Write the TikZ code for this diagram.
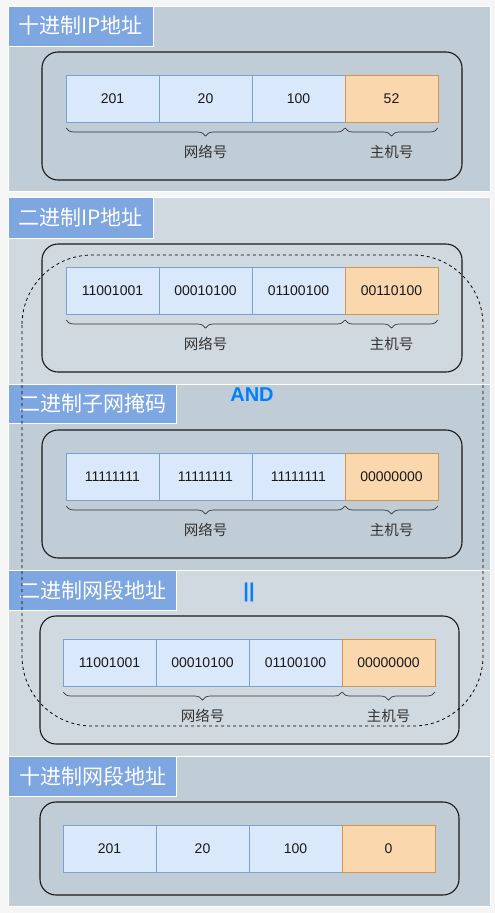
\documentclass[tikz,border=0pt]{standalone}
\usepackage{fontspec}
\setmainfont{Liberation Sans}
\newfontfamily\cjk{Noto Sans CJK SC}
\usetikzlibrary{decorations.pathreplacing,calc}
\definecolor{pagebg}{HTML}{F5F5F5}
\definecolor{pdark}{HTML}{C1CDD6}
\definecolor{plight}{HTML}{D1D9E0}
\definecolor{titlebg}{HTML}{7EA6E0}
\definecolor{cellblue}{HTML}{DAE8FC}
\definecolor{cellbluedraw}{HTML}{7EA0CC}
\definecolor{cellorange}{HTML}{FAD7AC}
\definecolor{cellorangedraw}{HTML}{D0974A}
\definecolor{andblue}{HTML}{007FFF}
\definecolor{bracecol}{HTML}{333333}
\tikzset{
  panel/.style={draw=white,line width=0.8pt},
  titlebox/.style={fill=titlebg,draw=white,line width=0.6pt},
  titletext/.style={text=white,font=\cjk\fontsize{21}{21}\selectfont,anchor=west,inner sep=0pt},
  roundbox/.style={draw=black!90,line width=1.1pt,rounded corners=16pt},
  cellb/.style={draw=cellbluedraw,fill=cellblue,line width=0.7pt,minimum width=93pt,minimum height=47pt,inner sep=0pt,outer sep=0pt,anchor=north west,font=\fontsize{14}{14}\selectfont,text=black!90},
  cello/.style={cellb,draw=cellorangedraw,fill=cellorange},
  bracestyle/.style={draw=bracecol,line width=0.7pt,decorate,decoration={brace,mirror,amplitude=8pt}},
  lbl/.style={font=\cjk\fontsize{14.5}{14.5}\selectfont,text=black!80,inner sep=0pt},
  optext/.style={text=andblue,font=\bfseries\fontsize{20}{20}\selectfont,inner sep=0pt}
}
\newcommand\cellrow[6]{%
  \node[cellb] (#1a) at (#2,#3) {#4};
  \node[cellb] (#1b) at ($(#2,#3)+(93,0)$) {#5};
  \node[cellb] (#1c) at ($(#2,#3)+(186,0)$) {#6};
}
\begin{document}
\begin{tikzpicture}[x=1pt,y=-1pt]
\fill[pagebg] (0,0) rectangle (495,913);
\useasboundingbox (0,0) rectangle (495,913);
% panels
\draw[panel,fill=pdark] (8,6) rectangle (490,191);
\draw[panel,fill=plight] (8,197) rectangle (490,384);
\draw[panel,fill=pdark] (8,384) rectangle (490,570);
\draw[panel,fill=plight] (8,570) rectangle (490,756);
\draw[panel,fill=pdark] (8,756) rectangle (490,906);
% titles
\draw[titlebox] (8,6) rectangle (153,46);
\node[titletext] (t1) at (18,26) {十进制IP地址};
\draw[titlebox] (8,197) rectangle (153,238);
\node[titletext] (t2) at (18,217.5) {二进制IP地址};
\draw[titlebox] (8,384) rectangle (176,423);
\node[titletext] (t3) at (19,403.5) {二进制子网掩码};
\draw[titlebox] (8,570) rectangle (176,610);
\node[titletext] (t4) at (19,590) {二进制网段地址};
\draw[titlebox] (8,756) rectangle (176,796);
\node[titletext] (t5) at (19,776) {十进制网段地址};
% rounded boxes
\draw[roundbox] (42,52) rectangle (462,180);
\draw[roundbox] (42,244) rectangle (462,372);
\draw[roundbox] (42,430) rectangle (462,558);
\draw[roundbox] (40,616) rectangle (459,744);
\draw[roundbox] (40,802) rectangle (459,895);
% dashed region
\draw[black,line width=0.8pt,dash pattern=on 3pt off 3pt,rounded corners=70pt] (22,255) rectangle (483,726);
% row 1
\cellrow{r1}{66}{75}{201}{20}{100}
\node[cello] (r1d) at (345,75) {52};
\draw[bracestyle] ([yshift=-6pt]r1a.south west) -- ([yshift=-6pt]r1c.south east);
\draw[bracestyle] ([yshift=-6pt]r1d.south west) -- ([yshift=-6pt]r1d.south east);
\node[lbl] (r1n) at (205.5,152) {网络号};
\node[lbl] (r1h) at (391.5,152) {主机号};
% row 2
\cellrow{r2}{66}{267}{11001001}{00010100}{01100100}
\node[cello] (r2d) at (345,267) {00110100};
\draw[bracestyle] ([yshift=-6pt]r2a.south west) -- ([yshift=-6pt]r2c.south east);
\draw[bracestyle] ([yshift=-6pt]r2d.south west) -- ([yshift=-6pt]r2d.south east);
\node[lbl] (r2n) at (205.5,344) {网络号};
\node[lbl] (r2h) at (391.5,344) {主机号};
% AND
\node[optext] (and) at (252,395) {AND};
% row 3
\cellrow{r3}{66}{453}{11111111}{11111111}{11111111}
\node[cello] (r3d) at (345,453) {00000000};
\draw[bracestyle] ([yshift=-6pt]r3a.south west) -- ([yshift=-6pt]r3c.south east);
\draw[bracestyle] ([yshift=-6pt]r3d.south west) -- ([yshift=-6pt]r3d.south east);
\node[lbl] (r3n) at (205.5,530) {网络号};
\node[lbl] (r3h) at (391.5,530) {主机号};
% equals
\node[optext] (eq) at (249,592) {||};
% row 4
\cellrow{r4}{63}{639}{11001001}{00010100}{01100100}
\node[cello] (r4d) at (342,639) {00000000};
\draw[bracestyle] ([yshift=-6pt]r4a.south west) -- ([yshift=-6pt]r4c.south east);
\draw[bracestyle] ([yshift=-6pt]r4d.south west) -- ([yshift=-6pt]r4d.south east);
\node[lbl] (r4n) at (202.5,716) {网络号};
\node[lbl] (r4h) at (388.5,716) {主机号};
% row 5
\cellrow{r5}{63}{825}{201}{20}{100}
\node[cello] (r5d) at (342,825) {0};
\end{tikzpicture}
\end{document}
